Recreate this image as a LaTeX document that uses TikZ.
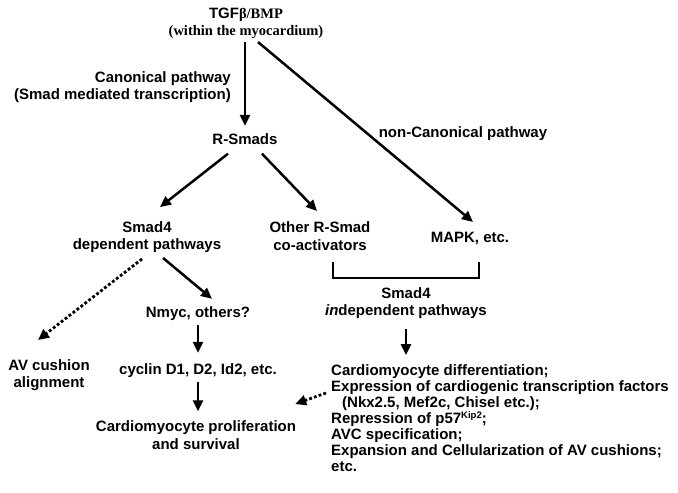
\documentclass[tikz,border=0pt]{standalone}
\usepackage{fontspec}
\setmainfont{Liberation Sans}
\newfontfamily\serifbf{Liberation Serif}
\usetikzlibrary{arrows.meta}

\newcommand{\tms}{\serifbf\fontsize{14.5}{17.5}\selectfont}

\tikzset{
  lbl/.style={font=\bfseries\fontsize{15}{17.5}\selectfont, align=center, inner sep=0pt},
  arr/.style={line width=2.5pt, -{Triangle[length=11pt,width=10pt]}},
  dotarr/.style={arr, line width=2.8pt, dash pattern=on 2.8pt off 2.2pt},
  bar/.style={line width=2.8pt},
}

\begin{document}
\begin{tikzpicture}[x=1pt,y=-1pt]
    \useasboundingbox (0,0) rectangle (678,493);

    % Ligand
    \node[lbl] (tgf) at (246,23.3) {TGF{\tms β/BMP}\\{\tms (within the myocardium)}};

    % Pathway labels
    \node[lbl, align=right, anchor=east] (canon) at (231,87) {Canonical pathway\\(Smad mediated transcription)};
    \node[lbl] (noncanon) at (463,133.5) {non-Canonical pathway};

    % Nodes
    \node[lbl] (rsmad) at (245,139) {R-Smads};
    \node[lbl] (dep) at (147,237) {Smad4\\dependent pathways};
    \node[lbl] (other) at (320,236) {Other R-Smad\\co-activators};
    \node[lbl] (mapk) at (470,238) {MAPK, etc.};
    \node[lbl] (indep) at (406,303) {Smad4\\\textit{in}dependent pathways};
    \node[lbl] (nmyc) at (198,313.5) {Nmyc, others?};
    \node[lbl] (av) at (49,375) {AV cushion\\alignment};
    \node[lbl] (cyclin) at (198,370.5) {cyclin D1, D2, Id2, etc.};
    \node[lbl] (prolif) at (196,435) {Cardiomyocyte proliferation\\and survival};
    \node[lbl, align=left, anchor=north west, font=\bfseries\fontsize{15}{16}\selectfont] (effects) at (331,364.5) {%
        Cardiomyocyte differentiation;\\
        Expression of cardiogenic transcription factors\\
        \hspace*{11pt}(Nkx2.5, Mef2c, Chisel etc.);\\
        Repression of p57\raisebox{5pt}{\fontsize{9.5}{9.5}\selectfont Kip2};\\
        AVC specification;\\
        Expansion and Cellularization of AV cushions;\\
        etc.};

    % Arrows
    \draw[arr, shorten <=3pt, shorten >=7.5pt] (tgf.south -| rsmad.north) -- (rsmad.north);
    \draw[arr] ([xshift=12pt,yshift=-3pt]tgf.south) -- ([xshift=3pt,yshift=9.5pt]mapk.north);
    \draw[arr] ([xshift=-17pt,yshift=-9pt]rsmad.south) -- ([xshift=13pt,yshift=14pt]dep.north);
    \draw[arr] ([xshift=17pt,yshift=-9pt]rsmad.south) -- ([xshift=-3pt,yshift=10.5pt]other.north);
    \draw[dotarr] ([xshift=-5pt,yshift=-6pt]dep.south) -- ([xshift=-11pt,yshift=19pt]av.north);
    \draw[arr] ([xshift=16pt,yshift=-5pt]dep.south) -- ([xshift=14pt,yshift=7.5pt]nmyc.north);
    \draw[arr, shorten <=4.5pt, shorten >=10.5pt] (nmyc.south) -- (cyclin.north);
    \draw[arr, shorten <=4.5pt, shorten >=9.2pt] (cyclin.south) -- (cyclin.south |- prolif.north);
    \draw[arr, shorten <=10pt, shorten >=9.5pt] (indep.south) -- (indep.south |- effects.north);
    \draw[dotarr] ([xshift=-5pt,yshift=-28.5pt]effects.north west) -- ([xshift=-1pt,yshift=31pt]prolif.east);

    % Bracket
    \draw[bar] ([xshift=13pt,yshift=-11.5pt]other.south) -- ++(0,16) -| ([xshift=9pt,yshift=-17.5pt]mapk.south);
\end{tikzpicture}
\end{document}
